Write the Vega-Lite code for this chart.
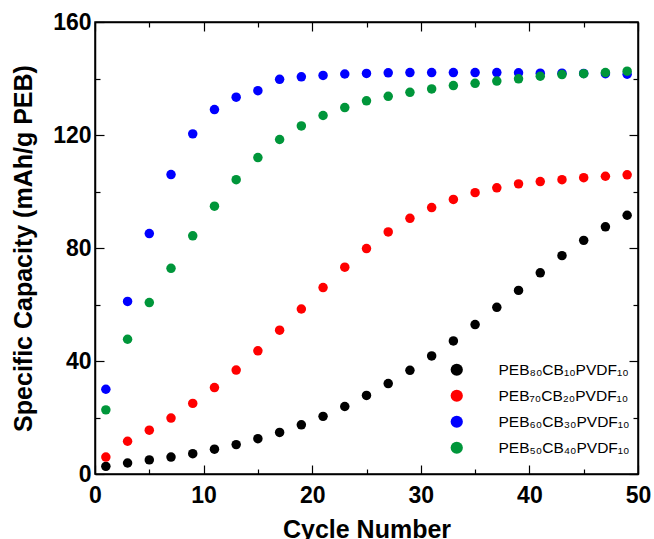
{
  "$schema": "https://vega.github.io/schema/vega-lite/v6.json",
  "autosize": "none",
  "padding": {"left": 95, "top": 22, "right": 16, "bottom": 65},
  "width": 543,
  "height": 452,
  "config": {
    "view": {"stroke": "black", "strokeWidth": 1.5},
    "font": "Liberation Sans"
  },
  "datasets": {
    "pts": [
      {"cycle":1,"capacity":2.7,"sample":"PEB₈₀CB₁₀PVDF₁₀"},
      {"cycle":3,"capacity":3.9,"sample":"PEB₈₀CB₁₀PVDF₁₀"},
      {"cycle":5,"capacity":5.0,"sample":"PEB₈₀CB₁₀PVDF₁₀"},
      {"cycle":7,"capacity":6.0,"sample":"PEB₈₀CB₁₀PVDF₁₀"},
      {"cycle":9,"capacity":7.2,"sample":"PEB₈₀CB₁₀PVDF₁₀"},
      {"cycle":11,"capacity":8.8,"sample":"PEB₈₀CB₁₀PVDF₁₀"},
      {"cycle":13,"capacity":10.4,"sample":"PEB₈₀CB₁₀PVDF₁₀"},
      {"cycle":15,"capacity":12.5,"sample":"PEB₈₀CB₁₀PVDF₁₀"},
      {"cycle":17,"capacity":14.7,"sample":"PEB₈₀CB₁₀PVDF₁₀"},
      {"cycle":19,"capacity":17.4,"sample":"PEB₈₀CB₁₀PVDF₁₀"},
      {"cycle":21,"capacity":20.4,"sample":"PEB₈₀CB₁₀PVDF₁₀"},
      {"cycle":23,"capacity":23.9,"sample":"PEB₈₀CB₁₀PVDF₁₀"},
      {"cycle":25,"capacity":27.8,"sample":"PEB₈₀CB₁₀PVDF₁₀"},
      {"cycle":27,"capacity":32.0,"sample":"PEB₈₀CB₁₀PVDF₁₀"},
      {"cycle":29,"capacity":36.7,"sample":"PEB₈₀CB₁₀PVDF₁₀"},
      {"cycle":31,"capacity":41.8,"sample":"PEB₈₀CB₁₀PVDF₁₀"},
      {"cycle":33,"capacity":47.1,"sample":"PEB₈₀CB₁₀PVDF₁₀"},
      {"cycle":35,"capacity":52.9,"sample":"PEB₈₀CB₁₀PVDF₁₀"},
      {"cycle":37,"capacity":59.0,"sample":"PEB₈₀CB₁₀PVDF₁₀"},
      {"cycle":39,"capacity":65.0,"sample":"PEB₈₀CB₁₀PVDF₁₀"},
      {"cycle":41,"capacity":71.2,"sample":"PEB₈₀CB₁₀PVDF₁₀"},
      {"cycle":43,"capacity":77.3,"sample":"PEB₈₀CB₁₀PVDF₁₀"},
      {"cycle":45,"capacity":82.7,"sample":"PEB₈₀CB₁₀PVDF₁₀"},
      {"cycle":47,"capacity":87.5,"sample":"PEB₈₀CB₁₀PVDF₁₀"},
      {"cycle":49,"capacity":91.6,"sample":"PEB₈₀CB₁₀PVDF₁₀"},
      {"cycle":1,"capacity":6.0,"sample":"PEB₇₀CB₂₀PVDF₁₀"},
      {"cycle":3,"capacity":11.6,"sample":"PEB₇₀CB₂₀PVDF₁₀"},
      {"cycle":5,"capacity":15.5,"sample":"PEB₇₀CB₂₀PVDF₁₀"},
      {"cycle":7,"capacity":19.8,"sample":"PEB₇₀CB₂₀PVDF₁₀"},
      {"cycle":9,"capacity":25.0,"sample":"PEB₇₀CB₂₀PVDF₁₀"},
      {"cycle":11,"capacity":30.6,"sample":"PEB₇₀CB₂₀PVDF₁₀"},
      {"cycle":13,"capacity":36.8,"sample":"PEB₇₀CB₂₀PVDF₁₀"},
      {"cycle":15,"capacity":43.6,"sample":"PEB₇₀CB₂₀PVDF₁₀"},
      {"cycle":17,"capacity":50.9,"sample":"PEB₇₀CB₂₀PVDF₁₀"},
      {"cycle":19,"capacity":58.4,"sample":"PEB₇₀CB₂₀PVDF₁₀"},
      {"cycle":21,"capacity":66.0,"sample":"PEB₇₀CB₂₀PVDF₁₀"},
      {"cycle":23,"capacity":73.2,"sample":"PEB₇₀CB₂₀PVDF₁₀"},
      {"cycle":25,"capacity":79.8,"sample":"PEB₇₀CB₂₀PVDF₁₀"},
      {"cycle":27,"capacity":85.7,"sample":"PEB₇₀CB₂₀PVDF₁₀"},
      {"cycle":29,"capacity":90.5,"sample":"PEB₇₀CB₂₀PVDF₁₀"},
      {"cycle":31,"capacity":94.3,"sample":"PEB₇₀CB₂₀PVDF₁₀"},
      {"cycle":33,"capacity":97.2,"sample":"PEB₇₀CB₂₀PVDF₁₀"},
      {"cycle":35,"capacity":99.6,"sample":"PEB₇₀CB₂₀PVDF₁₀"},
      {"cycle":37,"capacity":101.3,"sample":"PEB₇₀CB₂₀PVDF₁₀"},
      {"cycle":39,"capacity":102.7,"sample":"PEB₇₀CB₂₀PVDF₁₀"},
      {"cycle":41,"capacity":103.5,"sample":"PEB₇₀CB₂₀PVDF₁₀"},
      {"cycle":43,"capacity":104.2,"sample":"PEB₇₀CB₂₀PVDF₁₀"},
      {"cycle":45,"capacity":104.9,"sample":"PEB₇₀CB₂₀PVDF₁₀"},
      {"cycle":47,"capacity":105.4,"sample":"PEB₇₀CB₂₀PVDF₁₀"},
      {"cycle":49,"capacity":105.9,"sample":"PEB₇₀CB₂₀PVDF₁₀"},
      {"cycle":1,"capacity":30.0,"sample":"PEB₆₀CB₃₀PVDF₁₀"},
      {"cycle":3,"capacity":61.1,"sample":"PEB₆₀CB₃₀PVDF₁₀"},
      {"cycle":5,"capacity":85.1,"sample":"PEB₆₀CB₃₀PVDF₁₀"},
      {"cycle":7,"capacity":106.0,"sample":"PEB₆₀CB₃₀PVDF₁₀"},
      {"cycle":9,"capacity":120.4,"sample":"PEB₆₀CB₃₀PVDF₁₀"},
      {"cycle":11,"capacity":129.0,"sample":"PEB₆₀CB₃₀PVDF₁₀"},
      {"cycle":13,"capacity":133.4,"sample":"PEB₆₀CB₃₀PVDF₁₀"},
      {"cycle":15,"capacity":135.7,"sample":"PEB₆₀CB₃₀PVDF₁₀"},
      {"cycle":17,"capacity":139.7,"sample":"PEB₆₀CB₃₀PVDF₁₀"},
      {"cycle":19,"capacity":140.6,"sample":"PEB₆₀CB₃₀PVDF₁₀"},
      {"cycle":21,"capacity":141.1,"sample":"PEB₆₀CB₃₀PVDF₁₀"},
      {"cycle":23,"capacity":141.6,"sample":"PEB₆₀CB₃₀PVDF₁₀"},
      {"cycle":25,"capacity":141.8,"sample":"PEB₆₀CB₃₀PVDF₁₀"},
      {"cycle":27,"capacity":142.0,"sample":"PEB₆₀CB₃₀PVDF₁₀"},
      {"cycle":29,"capacity":142.1,"sample":"PEB₆₀CB₃₀PVDF₁₀"},
      {"cycle":31,"capacity":142.1,"sample":"PEB₆₀CB₃₀PVDF₁₀"},
      {"cycle":33,"capacity":142.1,"sample":"PEB₆₀CB₃₀PVDF₁₀"},
      {"cycle":35,"capacity":142.1,"sample":"PEB₆₀CB₃₀PVDF₁₀"},
      {"cycle":37,"capacity":142.1,"sample":"PEB₆₀CB₃₀PVDF₁₀"},
      {"cycle":39,"capacity":142.0,"sample":"PEB₆₀CB₃₀PVDF₁₀"},
      {"cycle":41,"capacity":141.9,"sample":"PEB₆₀CB₃₀PVDF₁₀"},
      {"cycle":43,"capacity":141.9,"sample":"PEB₆₀CB₃₀PVDF₁₀"},
      {"cycle":45,"capacity":141.8,"sample":"PEB₆₀CB₃₀PVDF₁₀"},
      {"cycle":47,"capacity":141.7,"sample":"PEB₆₀CB₃₀PVDF₁₀"},
      {"cycle":49,"capacity":141.5,"sample":"PEB₆₀CB₃₀PVDF₁₀"},
      {"cycle":1,"capacity":22.7,"sample":"PEB₅₀CB₄₀PVDF₁₀"},
      {"cycle":3,"capacity":47.7,"sample":"PEB₅₀CB₄₀PVDF₁₀"},
      {"cycle":5,"capacity":60.7,"sample":"PEB₅₀CB₄₀PVDF₁₀"},
      {"cycle":7,"capacity":72.8,"sample":"PEB₅₀CB₄₀PVDF₁₀"},
      {"cycle":9,"capacity":84.3,"sample":"PEB₅₀CB₄₀PVDF₁₀"},
      {"cycle":11,"capacity":94.8,"sample":"PEB₅₀CB₄₀PVDF₁₀"},
      {"cycle":13,"capacity":104.2,"sample":"PEB₅₀CB₄₀PVDF₁₀"},
      {"cycle":15,"capacity":112.0,"sample":"PEB₅₀CB₄₀PVDF₁₀"},
      {"cycle":17,"capacity":118.4,"sample":"PEB₅₀CB₄₀PVDF₁₀"},
      {"cycle":19,"capacity":123.2,"sample":"PEB₅₀CB₄₀PVDF₁₀"},
      {"cycle":21,"capacity":126.9,"sample":"PEB₅₀CB₄₀PVDF₁₀"},
      {"cycle":23,"capacity":129.7,"sample":"PEB₅₀CB₄₀PVDF₁₀"},
      {"cycle":25,"capacity":132.1,"sample":"PEB₅₀CB₄₀PVDF₁₀"},
      {"cycle":27,"capacity":133.7,"sample":"PEB₅₀CB₄₀PVDF₁₀"},
      {"cycle":29,"capacity":135.1,"sample":"PEB₅₀CB₄₀PVDF₁₀"},
      {"cycle":31,"capacity":136.3,"sample":"PEB₅₀CB₄₀PVDF₁₀"},
      {"cycle":33,"capacity":137.5,"sample":"PEB₅₀CB₄₀PVDF₁₀"},
      {"cycle":35,"capacity":138.3,"sample":"PEB₅₀CB₄₀PVDF₁₀"},
      {"cycle":37,"capacity":139.1,"sample":"PEB₅₀CB₄₀PVDF₁₀"},
      {"cycle":39,"capacity":139.9,"sample":"PEB₅₀CB₄₀PVDF₁₀"},
      {"cycle":41,"capacity":140.8,"sample":"PEB₅₀CB₄₀PVDF₁₀"},
      {"cycle":43,"capacity":141.4,"sample":"PEB₅₀CB₄₀PVDF₁₀"},
      {"cycle":45,"capacity":141.7,"sample":"PEB₅₀CB₄₀PVDF₁₀"},
      {"cycle":47,"capacity":142.1,"sample":"PEB₅₀CB₄₀PVDF₁₀"},
      {"cycle":49,"capacity":142.6,"sample":"PEB₅₀CB₄₀PVDF₁₀"}
    ]
  },
  "data": {"name": "pts"},
  "layer": [
    {
      "mark": {"type": "circle", "size": 90, "opacity": 1},
      "encoding": {
        "x": {
          "field": "cycle", "type": "quantitative",
          "scale": {"domain": [0, 50], "nice": false, "zero": false},
          "axis": {
            "orient": "bottom",
            "values": [0,5,10,15,20,25,30,35,40,45,50],
            "labelExpr": "datum.value % 10 === 0 ? datum.label : ''",
            "tickSize": {"condition": {"test": "datum.value % 10 === 0", "value": -9}, "value": -5},
            "tickColor": "black", "tickWidth": 1.2,
            "domainColor": "black", "domainWidth": 1.5,
            "grid": false,
            "labelFont": "Liberation Sans", "labelFontSize": 23, "labelFontWeight": "bold", "labelColor": "black",
            "labelPadding": 19, "labelFlush": false, "labelOverlap": false,
            "title": "Cycle Number",
            "titleFont": "Liberation Sans", "titleFontSize": 25, "titleFontWeight": "bold", "titleColor": "black",
            "titlePadding": 6
          }
        },
        "y": {
          "field": "capacity", "type": "quantitative",
          "scale": {"domain": [0, 160], "nice": false},
          "axis": {
            "orient": "left",
            "values": [0,20,40,60,80,100,120,140,160],
            "labelExpr": "datum.value % 40 === 0 ? datum.label : ''",
            "tickSize": {"condition": {"test": "datum.value % 40 === 0", "value": -9}, "value": -5},
            "tickColor": "black", "tickWidth": 1.2,
            "domainColor": "black", "domainWidth": 1.5,
            "grid": false,
            "labelFont": "Liberation Sans", "labelFontSize": 23, "labelFontWeight": "bold", "labelColor": "black",
            "labelPadding": 13, "labelFlush": false, "labelOverlap": false,
            "title": "Specific Capacity (mAh/g PEB)",
            "titleFont": "Liberation Sans", "titleFontSize": 25, "titleFontWeight": "bold", "titleColor": "black",
            "titlePadding": 16
          }
        },
        "color": {
          "field": "sample", "type": "nominal",
          "scale": {
            "domain": ["PEB₈₀CB₁₀PVDF₁₀", "PEB₇₀CB₂₀PVDF₁₀", "PEB₆₀CB₃₀PVDF₁₀", "PEB₅₀CB₄₀PVDF₁₀"],
            "range": ["#000000", "#FF0000", "#0000FF", "#00963A"]
          },
          "legend": {
            "orient": "none", "legendX": 354, "legendY": 340,
            "title": null,
            "symbolType": "circle", "symbolSize": 150, "symbolStrokeWidth": 0,
            "labelFont": "Liberation Sans", "labelFontSize": 15.5, "labelColor": "black",
            "labelOffset": 34, "rowPadding": 9
          }
        }
      }
    },
    {
      "mark": {"type": "circle", "opacity": 0},
      "encoding": {
        "x": {
          "field": "cycle", "type": "quantitative",
          "axis": {
            "orient": "top",
            "values": [0,5,10,15,20,25,30,35,40,45,50],
            "labels": false, "title": null, "grid": false,
            "tickSize": {"condition": {"test": "datum.value % 10 === 0", "value": -9}, "value": -5},
            "tickColor": "black", "tickWidth": 1.2,
            "domainColor": "black", "domainWidth": 1.5
          }
        },
        "y": {
          "field": "capacity", "type": "quantitative",
          "axis": {
            "orient": "right",
            "values": [0,20,40,60,80,100,120,140,160],
            "labels": false, "title": null, "grid": false,
            "tickSize": {"condition": {"test": "datum.value % 40 === 0", "value": -9}, "value": -5},
            "tickColor": "black", "tickWidth": 1.2,
            "domainColor": "black", "domainWidth": 1.5
          }
        }
      }
    }
  ],
  "resolve": {"axis": {"x": "independent", "y": "independent"}}
}
